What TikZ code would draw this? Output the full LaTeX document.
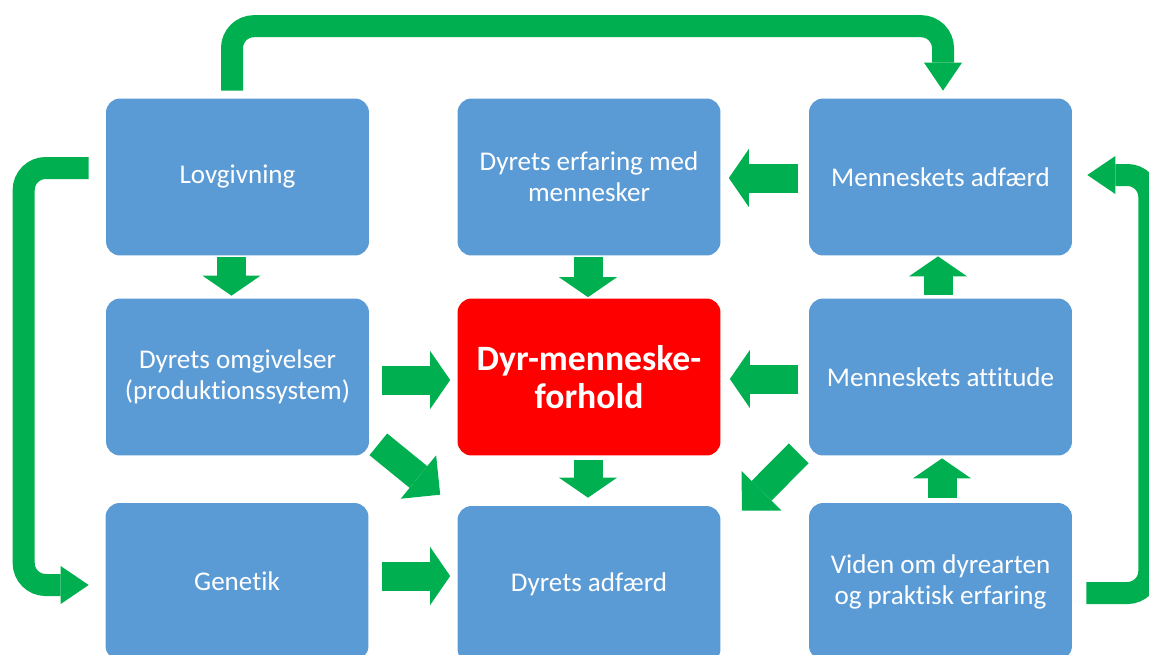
\documentclass[tikz,border=0pt]{standalone}
\usepackage{fontspec}
\setmainfont{Carlito}[Ligatures=NoCommon]
\usetikzlibrary{arrows.meta,calc}
\definecolor{boxblue}{HTML}{5B9BD5}
\definecolor{agreen}{HTML}{00B050}
\definecolor{hotred}{HTML}{FF0000}
\begin{document}
\begin{tikzpicture}[x=0.02cm,y=-0.02cm,
  box/.style={fill=boxblue, rounded corners=0.28cm, minimum width=5.26cm, minimum height=3.14cm,
    inner sep=0pt, text=white, align=center, font=\fontsize{15.4}{17.6}\selectfont},
  centerbox/.style={box, fill=hotred, font=\bfseries\fontsize{20.3}{21.4}\selectfont},
  sarrow/.style={draw=agreen, line width=0.58cm, -{Triangle[width=1.16cm,length=0.4cm,line width=0pt]}},
  darrow/.style={draw=agreen, line width=0.56cm, -{Triangle[width=1.12cm,length=0.56cm,line width=0pt]}},
  barrow/.style={draw=agreen, line width=0.44cm, rounded corners=0.44cm, -{Triangle[width=0.76cm,length=0.56cm,line width=0pt]}}]
\useasboundingbox (0,0) rectangle (1149,654);
\clip (0,0) rectangle (1149,654);
% boxes
\node[box] (lov) at (237.5,177) {Lovgivning};
\node[box] (erf) at (589,177) {Dyrets erfaring med\\mennesker};
\node[box] (madf) at (940.5,177) {Menneskets adfærd};
\node[box] (omg) at (237.5,377) {Dyrets omgivelser\\(produktionssystem)};
\node[centerbox] (red) at (589,377) {Dyr-menneske-\\forhold};
\node[box] (att) at (940.5,377) {Menneskets attitude};
\node[box] (gen) at (237,581.5) {Genetik};
\node[box] (dadf) at (589,584.5) {Dyrets adfærd};
\node[box] (vid) at (940.5,581.5) {Viden om dyrearten\\og praktisk erfaring};
% straight block arrows
\draw[sarrow] ($(lov.south)+(-6,1.5)$) -- ($(omg.north)+(-6,-2.5)$);
\draw[sarrow] ($(erf.south)+(-1,1.5)$) -- ($(red.north)+(-1,-1)$);
\draw[sarrow] ($(red.south)+(-1,4)$) -- ($(dadf.north)+(-1,-8)$);
\draw[sarrow] ($(omg.east)+(13,3)$) -- ($(red.west)+(-7,3)$);
\draw[sarrow] ($(att.west)+(-11,2)$) -- ($(red.east)+(9,2)$);
\draw[sarrow] ($(madf.west)+(-11,1)$) -- ($(erf.east)+(8,1)$);
\draw[sarrow] ($(gen.east)+(13.5,-5.5)$) -- ($(dadf.west)+(-7,-8.5)$);
\draw[sarrow] ($(att.north)+(-2.5,-3.5)$) -- ($(madf.south)+(-2.5,0.5)$);
\draw[sarrow] ($(vid.north)+(1.5,-5)$) -- ($(att.south)+(1.5,2.5)$);
% diagonal block arrows
\draw[darrow] ($(omg.south east)+(9,-11.5)$) -- ($(dadf.north west)+(-17,-11)$);
\draw[darrow] ($(att.south west)+(-10,-2.5)$) -- ($(dadf.north east)+(21,5)$);
% bent arrows
\draw[barrow] ($(lov.north)+(-5.5,-7.5)$) -- ++(0,-64.5) -| ($(madf.north)+(2.5,-7.5)$);
\draw[barrow] ($(lov.west)+(-17,-9)$) -- ++(-65,0) |- ($(gen.west)+(-16.5,3.5)$);
\draw[barrow] ($(vid.east)+(14,11.5)$) -- ++(63,0) |- ($(madf.east)+(15,-2)$);
\end{tikzpicture}
\end{document}
